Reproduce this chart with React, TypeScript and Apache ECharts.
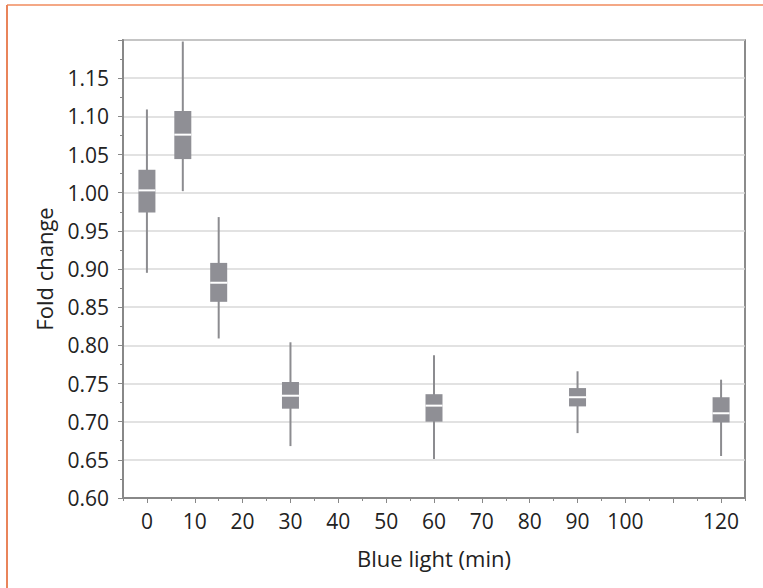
import React, { useEffect, useRef } from "react";
import * as echarts from "echarts";

// Blue light exposure time (min)
const times = [0, 7.5, 15, 30, 60, 90, 120];
const whiskerLow = [0.895, 1.002, 0.809, 0.668, 0.651, 0.685, 0.655];
const q1 = [0.974, 1.044, 0.857, 0.717, 0.700, 0.720, 0.699];
const median = [1.003, 1.076, 0.882, 0.734, 0.721, 0.732, 0.711];
const q3 = [1.030, 1.107, 0.908, 0.752, 0.736, 0.744, 0.732];
const whiskerHigh = [1.109, 1.198, 0.968, 0.804, 0.787, 0.766, 0.755];

const xMajorTicks = [0, 10, 20, 30, 40, 50, 60, 70, 80, 90, 100, 110, 120];
const xTickLabels = [0, 10, 20, 30, 40, 50, 60, 70, 80, 90, 100, 120];

const FONT = "'Open Sans', 'Noto Sans', sans-serif";
const TEXT = "#222222";

export default function App() {
  const ref = useRef<HTMLDivElement>(null);

  useEffect(() => {
    if (!ref.current) return;
    const chart = echarts.init(ref.current, undefined, { renderer: "svg" });
    const data = times.map((t, i) => [t, whiskerLow[i], q1[i], median[i], q3[i], whiskerHigh[i]]);
    const boxW = 17;

    chart.setOption({
      animation: false,
      backgroundColor: "#ffffff",
      textStyle: { fontFamily: FONT },
      graphic: [
        { type: "line", shape: { x1: 7, y1: 5, x2: 763, y2: 5 }, style: { stroke: "#f4a886", lineWidth: 2 } },
        { type: "line", shape: { x1: 7, y1: 5, x2: 7, y2: 588 }, style: { stroke: "#e9845a", lineWidth: 2 } },
      ],
      grid: {
        left: 123,
        right: 18,
        top: 40,
        bottom: 90,
        show: true,
        borderColor: "#666666",
        borderWidth: 1.5,
        backgroundColor: "transparent",
      },
      xAxis: [
        {
          type: "value",
          position: "bottom",
          min: -5,
          max: 125,
          interval: 5,
          axisLine: { show: true, onZero: false, lineStyle: { color: "#888888", width: 2 } },
          axisTick: { show: true, length: 3, lineStyle: { color: "#888888", width: 1 } },
          axisLabel: { show: false },
          splitLine: { show: false },
          name: "Blue light (min)",
          nameLocation: "middle",
          nameGap: 49,
          nameTextStyle: { fontFamily: FONT, fontSize: 22, color: TEXT },
        },
        {
          type: "value",
          position: "bottom",
          min: -5,
          max: 125,
          interval: 5,
          axisLine: { show: false, onZero: false },
          axisTick: {
            show: true,
            length: 5,
            customValues: xMajorTicks,
            lineStyle: { color: "#888888", width: 1 },
          },
          axisLabel: {
            show: true,
            customValues: xTickLabels,
            margin: 12,
            fontFamily: FONT,
            fontSize: 21,
            color: TEXT,
            formatter: (v: number) => String(v),
          },
          splitLine: { show: false },
        },
      ],
      yAxis: {
        type: "value",
        min: 0.6,
        max: 1.2,
        interval: 0.05,
        axisLine: { show: true, onZero: false, lineStyle: { color: "#888888", width: 2 } },
        axisTick: { show: true, length: 5, lineStyle: { color: "#888888", width: 1 } },
        minorTick: { show: true, splitNumber: 2, length: 3, lineStyle: { color: "#888888", width: 1 } },
        axisLabel: {
          margin: 14,
          fontFamily: FONT,
          fontSize: 21,
          color: TEXT,
          formatter: (v: number) => (v > 1.19 ? "" : v.toFixed(2)),
        },
        splitLine: { show: true, lineStyle: { color: "#d9d9d9", width: 1.5 } },
        name: "Fold change",
        nameLocation: "middle",
        nameGap: 68,
        nameTextStyle: { fontFamily: FONT, fontSize: 22, color: TEXT },
      },
      series: [
        {
          type: "custom",
          xAxisIndex: 0,
          yAxisIndex: 0,
          data,
          encode: { x: 0, y: [1, 2, 3, 4, 5] },
          clip: false,
          renderItem: (params: any, api: any) => {
            const x = api.value(0);
            const lo = api.coord([x, api.value(1)]);
            const b = api.coord([x, api.value(2)]);
            const m = api.coord([x, api.value(3)]);
            const t = api.coord([x, api.value(4)]);
            const hi = api.coord([x, api.value(5)]);
            return {
              type: "group",
              children: [
                {
                  type: "line",
                  shape: { x1: lo[0], y1: lo[1], x2: hi[0], y2: hi[1] },
                  style: { stroke: "#8c8c90", lineWidth: 2 },
                },
                {
                  type: "rect",
                  shape: { x: t[0] - boxW / 2, y: t[1], width: boxW, height: b[1] - t[1] },
                  style: { fill: "#8f8f95" },
                },
                {
                  type: "line",
                  shape: { x1: m[0] - boxW / 2, y1: m[1], x2: m[0] + boxW / 2, y2: m[1] },
                  style: { stroke: "#ffffff", lineWidth: 2 },
                },
              ],
            };
          },
        },
      ],
    });
    return () => chart.dispose();
  }, []);

  return (
    <div
      ref={ref}
      style={{ position: "fixed", left: 0, top: 0, width: 763, height: 588, background: "#fff" }}
    />
  );
}
